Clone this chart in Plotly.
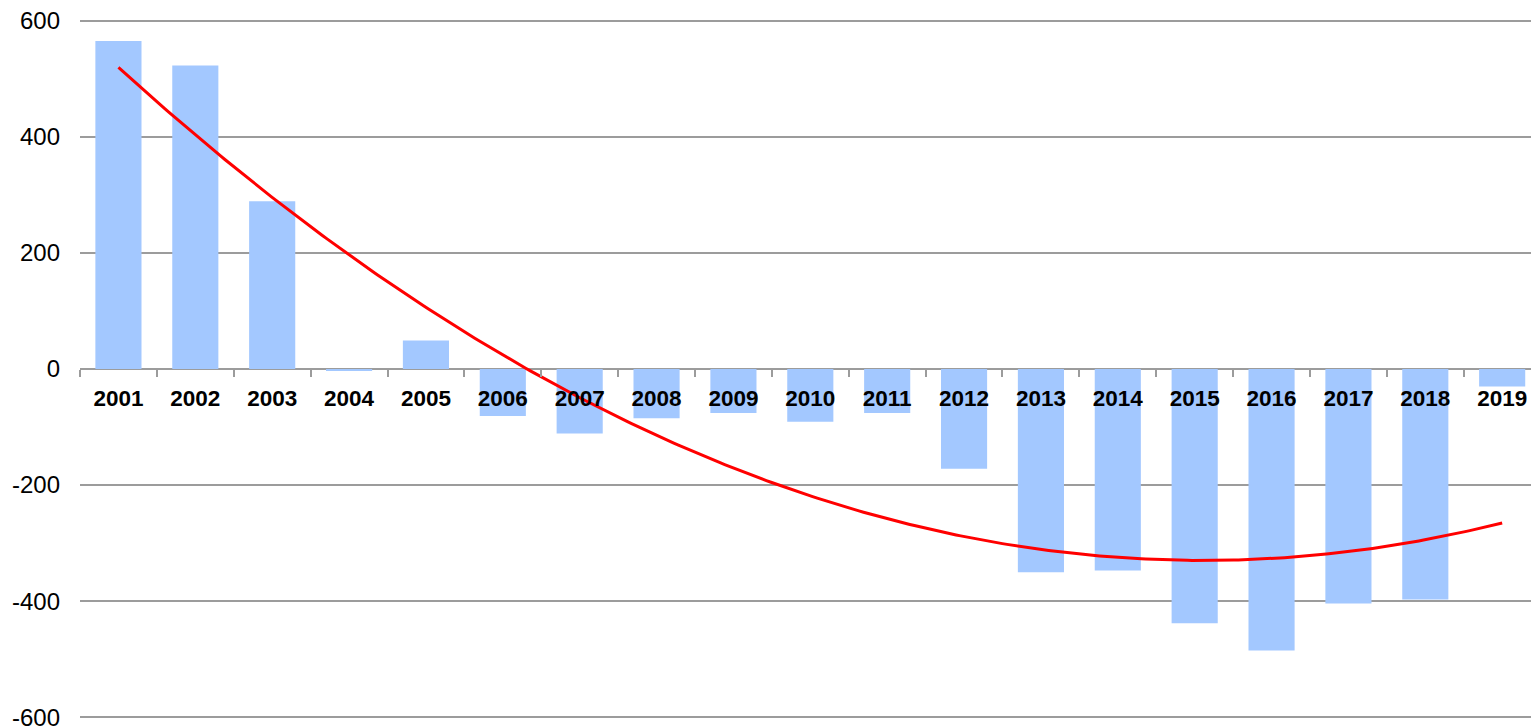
import numpy as np
import plotly.graph_objects as go

years = [2001, 2002, 2003, 2004, 2005, 2006, 2007, 2008, 2009, 2010,
         2011, 2012, 2013, 2014, 2015, 2016, 2017, 2018, 2019]
values = [565, 523, 289, -3, 49, -81, -111, -85, -76, -91,
          -76, -172, -350, -347, -438, -485, -404, -397, -30]
y_ticks = [-600, -400, -200, 0, 200, 400, 600]
y_tick_labels = ["-600", "-400", "-200", "0", "200", "400", "600"]

# Polynomial (order 2) trendline of the series, as in the original chart
coef = np.polyfit(years, values, 2)
tx = np.linspace(years[0], years[-1], 300)
ty = np.polyval(coef, tx)

fig = go.Figure()
fig.add_trace(go.Bar(x=years, y=values, marker=dict(color="#A3C8FF", line=dict(width=0)),
                     showlegend=False))
fig.add_trace(go.Scatter(x=tx, y=ty, mode="lines", line=dict(color="#FF0000", width=3),
                         showlegend=False))

# page body has an 8px margin: figure placed at (8, 8) in the window
fig.update_layout(
    width=1523, height=726,
    margin=dict(l=72, r=0, t=11, b=15, autoexpand=False),
    plot_bgcolor="white", paper_bgcolor="white",
    bargap=0.4,
    font=dict(family="Liberation Sans, Arial, sans-serif", size=22, color="black"),
)
fig.update_xaxes(
    range=[2000.5, 2019.375],
    anchor="free", position=0.5, automargin=False,
    showline=False,
    showgrid=False, zeroline=False,
    tickmode="array", tickvals=years, ticktext=[f"<b>{y}</b>" for y in years],
    ticks="", ticklabelstandoff=13,
    tickfont=dict(size=22.5, family="Liberation Sans, Arial, sans-serif", color="black"),
    minor=dict(tick0=2000.5, dtick=1, ticks="outside", ticklen=7, tickcolor="#9C9C9C",
               tickwidth=2, showgrid=False),
)
fig.update_yaxes(
    range=[-603, 603], automargin=False,
    tickmode="array", tickvals=y_ticks, ticktext=y_tick_labels,
    showgrid=True, gridcolor="#9C9C9C", gridwidth=2,
    zeroline=True, zerolinecolor="#9C9C9C", zerolinewidth=2,
    showline=False, ticks="",
    ticklabelstandoff=19, ticklabeloverflow="allow",
    tickfont=dict(size=24, family="Liberation Sans, Arial, sans-serif", color="black"),
)

fig.write_html(
    "out.html",
    post_script="document.documentElement.style.overflow='hidden';"
                "document.body.style.overflow='hidden';",
)
